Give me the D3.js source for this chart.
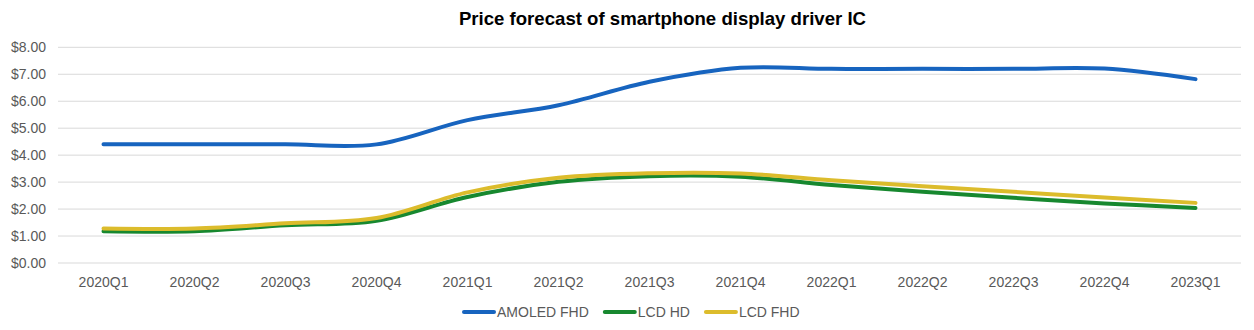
<!DOCTYPE html>
<html>
<head>
<meta charset="utf-8">
<script src="https://cdn.jsdelivr.net/npm/d3@7"></script>
<style>
  html, body { margin: 0; padding: 0; background: #fff; }
  svg { display: block; font-family: "Liberation Sans", Arial, sans-serif; }
</style>
</head>
<body>
<svg id="chart" width="1254" height="330"></svg>
<script>
const categories = ["2020Q1","2020Q2","2020Q3","2020Q4","2021Q1","2021Q2","2021Q3","2021Q4","2022Q1","2022Q2","2022Q3","2022Q4","2023Q1"];
const amoledFHD = [4.40, 4.40, 4.40, 4.40, 5.30, 5.85, 6.72, 7.24, 7.20, 7.20, 7.20, 7.21, 6.82];
const lcdHD     = [1.18, 1.18, 1.40, 1.57, 2.45, 3.01, 3.22, 3.20, 2.89, 2.64, 2.42, 2.21, 2.04];
const lcdFHD    = [1.28, 1.28, 1.47, 1.67, 2.62, 3.16, 3.33, 3.32, 3.07, 2.85, 2.64, 2.43, 2.23];
const yTicks    = [0, 1, 2, 3, 4, 5, 6, 7, 8];
const seriesNames = ["AMOLED FHD", "LCD HD", "LCD FHD"];
const seriesColors = ["#1764bf", "#17882f", "#dcbc2c"];

(function () {
const series = [amoledFHD, lcdHD, lcdFHD].map((v, i) => ({ name: seriesNames[i], color: seriesColors[i], values: v }));

const svg = d3.select("#chart");
const mLeft = 58, mRight = 1241, mTop = 47.3, mBottom = 263;

const x = d3.scaleBand().domain(categories).range([mLeft, mRight]).padding(0);
const y = d3.scaleLinear().domain([0, 8]).range([mBottom, mTop]);
const xc = c => x(c) + x.bandwidth() / 2;

// title
svg.append("text")
  .attr("x", 662.5).attr("y", 25)
  .attr("text-anchor", "middle")
  .attr("font-size", 18.6).attr("font-weight", "bold").attr("fill", "#000")
  .text("Price forecast of smartphone display driver IC");

// grid
svg.append("g").selectAll("line").data(yTicks).join("line")
  .attr("x1", mLeft).attr("x2", mRight)
  .attr("y1", d => y(d)).attr("y2", d => y(d))
  .attr("stroke", "#d9d9d9").attr("stroke-width", 1);

// y axis labels
const yAxis = d3.axisLeft(y).tickValues(yTicks).tickFormat(d => "$" + d3.format(".2f")(d)).tickSize(0).tickPadding(12);
const gy = svg.append("g").attr("transform", `translate(${mLeft},0)`).call(yAxis);
gy.select(".domain").remove();
gy.selectAll("text").attr("font-size", 14).attr("fill", "#595959")
  .attr("font-family", "Liberation Sans, Arial, sans-serif");

// x axis labels
const xAxis = d3.axisBottom(x).tickSize(0).tickPadding(14);
const gx = svg.append("g").attr("transform", `translate(0,${mBottom})`).call(xAxis);
gx.select(".domain").remove();
gx.selectAll("text").attr("font-size", 14).attr("fill", "#595959")
  .attr("font-family", "Liberation Sans, Arial, sans-serif");

// lines
const line = d3.line()
  .x((d, i) => xc(categories[i]))
  .y(d => y(d))
  .curve(d3.curveCardinal.tension(0));

svg.append("g").selectAll("path").data(series).join("path")
  .attr("d", d => line(d.values))
  .attr("fill", "none")
  .attr("stroke", d => d.color)
  .attr("stroke-width", 4)
  .attr("stroke-linecap", "round")
  .attr("stroke-linejoin", "round");

// legend
const lg = svg.append("g");
let lx = 462;
series.forEach((s) => {
  lg.append("line")
    .attr("x1", lx + 2).attr("x2", lx + 32)
    .attr("y1", 312).attr("y2", 312)
    .attr("stroke", s.color).attr("stroke-width", 4).attr("stroke-linecap", "round");
  const t = lg.append("text")
    .attr("x", lx + 35).attr("y", 317)
    .attr("font-size", 14).attr("fill", "#595959")
    .text(s.name);
  const w = t.node().getComputedTextLength();
  lx = lx + 35 + w + 14;
});
})();
</script>
</body>
</html>
